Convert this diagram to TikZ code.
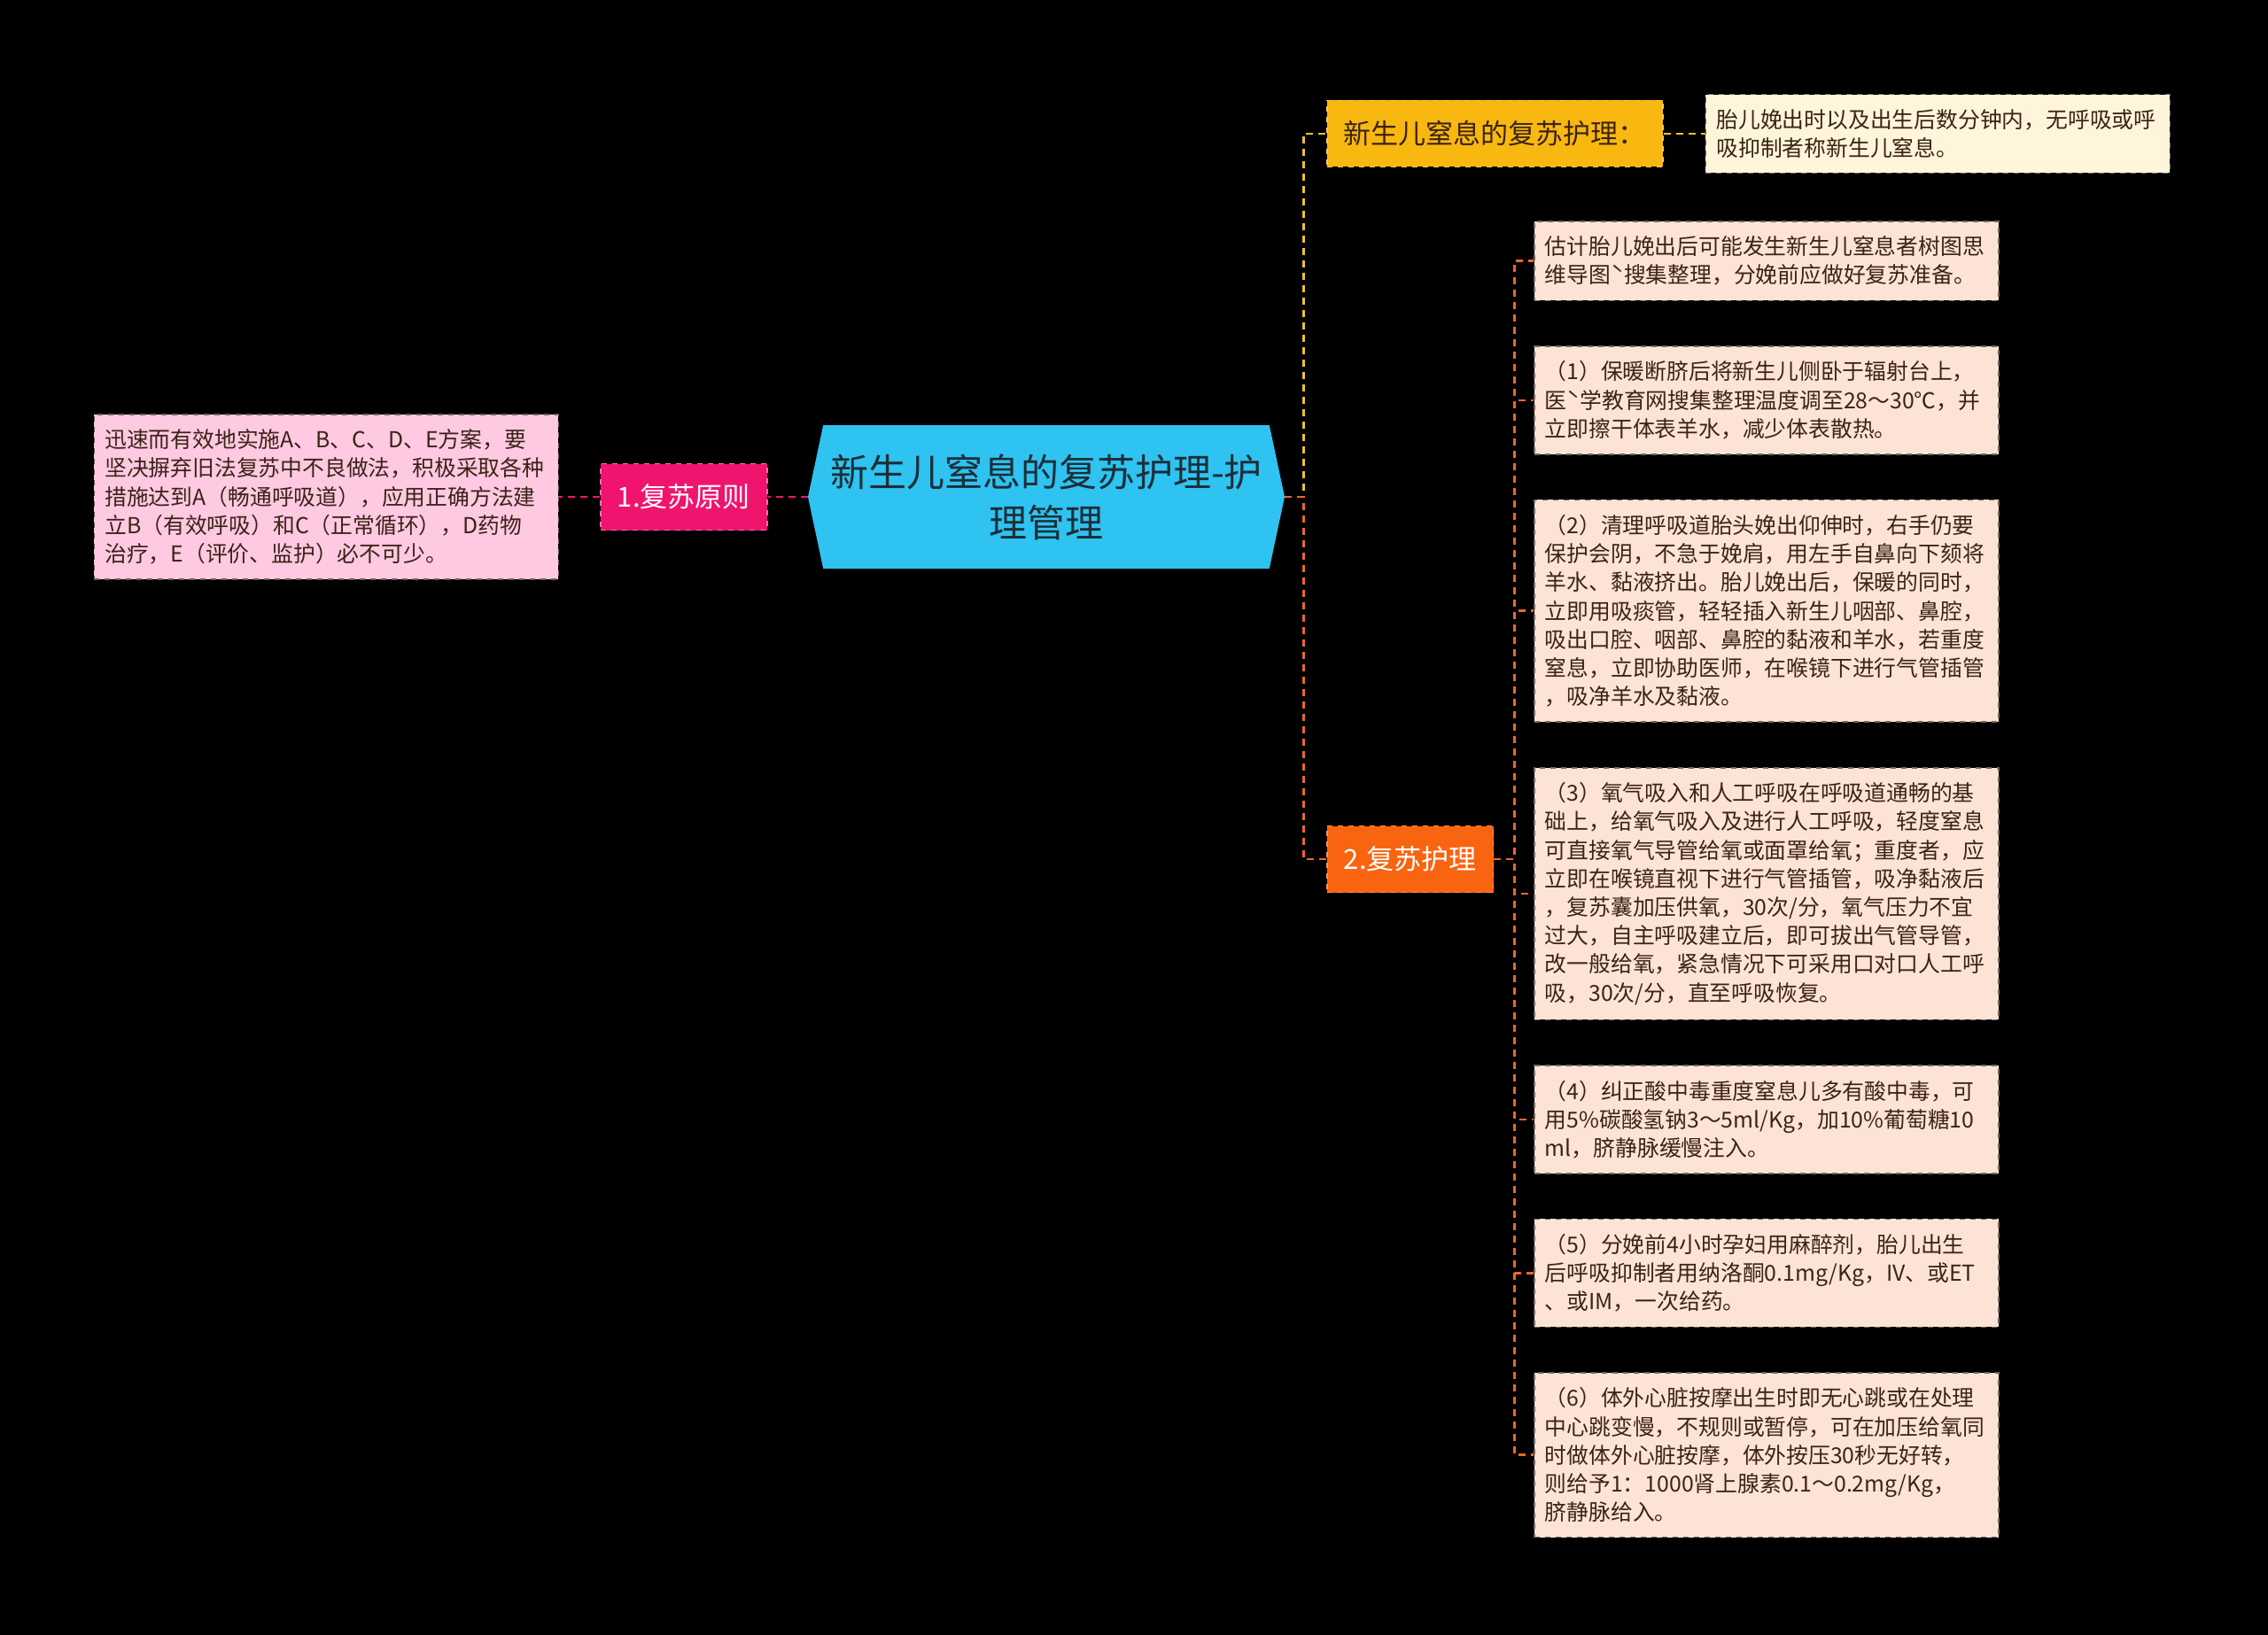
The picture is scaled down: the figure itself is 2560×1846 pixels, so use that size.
\documentclass[tikz,border=0pt]{standalone}
\usepackage{fontspec}
\setmainfont{Noto Sans CJK SC}
\usepackage{tikz}
\usetikzlibrary{positioning,shapes.symbols}
\definecolor{nbcyan}{HTML}{2EC3F0}
\definecolor{nbink}{HTML}{1C2E38}
\definecolor{nbpink}{HTML}{F0146E}
\definecolor{nbpinklt}{HTML}{FFC9E2}
\definecolor{nbgold}{HTML}{F8B80F}
\definecolor{nbcream}{HTML}{FFF5DB}
\definecolor{nbyline}{HTML}{F2C12E}
\definecolor{nborange}{HTML}{F96411}
\definecolor{nboline}{HTML}{EA672C}
\definecolor{nbpeach}{HTML}{FDE3D5}
\definecolor{nbbrown}{HTML}{3B2316}
\tikzset{
  root/.style={signal,signal to=west and east,signal pointer angle=156,
               fill=nbcyan,text=nbink,align=center,minimum width=269pt,
               minimum height=81pt,inner sep=2pt,font=\fontsize{21.5}{28.5}\selectfont},
  topic/.style={draw,dashed,line width=0.8pt,minimum height=37.5pt,inner xsep=9.5pt,
                font=\fontsize{15.5}{18}\selectfont},
  leaf/.style={draw,dashed,line width=0.8pt,text width=250pt,inner xsep=6pt,
               inner ysep=8.4pt,align=left,font=\fontsize{12.4}{16.1}\selectfont},
  pinktopic/.style={topic,fill=nbpink,draw=nbpink!60!white,text=white},
  goldtopic/.style={topic,fill=nbgold,draw=nbgold!70!white,text=nbbrown},
  orangetopic/.style={topic,fill=nborange,draw=nborange!70!white,text=white},
  pinkleaf/.style={leaf,fill=nbpinklt,draw=nbpinklt!45!black,text=nbbrown},
  creamleaf/.style={leaf,fill=nbcream,draw=nbcream!45!black,text=nbbrown},
  peachleaf/.style={leaf,fill=nbpeach,draw=nbpeach!45!black,text=nbbrown},
  ln/.style={line width=1.3pt,dash pattern=on 4pt off 3pt},
  pline/.style={ln,nbpink},
  yline/.style={ln,nbyline},
  oline/.style={ln,nboline},
}

\begin{document}
\begin{tikzpicture}[x=0.5pt,y=-0.5pt]
  \useasboundingbox (0,0) rectangle (2560,1846);
  \fill[black] (0,0) rectangle (2560,1846);
  \node[root] (root) at (1181,561) {新生儿窒息的复苏护理-护\\理管理};
  \node[pinktopic,left=22.5pt of root] (p1) {1.复苏原则};
  \node[pinkleaf,left=23pt of p1] (p1a) {迅速而有效地实施A、B、C、D、E方案，要\\坚决摒弃旧法复苏中不良做法，积极采取各种\\措施达到A（畅通呼吸道），应用正确方法建\\立B（有效呼吸）和C（正常循环），D药物\\治疗，E（评价、监护）必不可少。};
  \node[goldtopic,anchor=west] (y1) at (1497,151) {新生儿窒息的复苏护理：};
  \node[creamleaf,right=23.5pt of y1] (y1a) {胎儿娩出时以及出生后数分钟内，无呼吸或呼\\吸抑制者称新生儿窒息。};
  \node[orangetopic,anchor=west] (o2) at (1497,970) {2.复苏护理};
  \node[peachleaf,anchor=north west] (o2a) at (1731,249) {估计胎儿娩出后可能发生新生儿窒息者树图思\\维导图ˋ搜集整理，分娩前应做好复苏准备。};
  \node[peachleaf,below=25pt of o2a] (o2b) {（1）保暖断脐后将新生儿侧卧于辐射台上，\\医ˋ学教育网搜集整理温度调至28～30℃，并\\立即擦干体表羊水，减少体表散热。};
  \node[peachleaf,below=25pt of o2b] (o2c) {（2）清理呼吸道胎头娩出仰伸时，右手仍要\\保护会阴，不急于娩肩，用左手自鼻向下颏将\\羊水、黏液挤出。胎儿娩出后，保暖的同时，\\立即用吸痰管，轻轻插入新生儿咽部、鼻腔，\\吸出口腔、咽部、鼻腔的黏液和羊水，若重度\\窒息，立即协助医师，在喉镜下进行气管插管\\，吸净羊水及黏液。};
  \node[peachleaf,below=25pt of o2c] (o2d) {（3）氧气吸入和人工呼吸在呼吸道通畅的基\\础上，给氧气吸入及进行人工呼吸，轻度窒息\\可直接氧气导管给氧或面罩给氧；重度者，应\\立即在喉镜直视下进行气管插管，吸净黏液后\\，复苏囊加压供氧，30次/分，氧气压力不宜\\过大，自主呼吸建立后，即可拔出气管导管，\\改一般给氧，紧急情况下可采用口对口人工呼\\吸，30次/分，直至呼吸恢复。};
  \node[peachleaf,below=25pt of o2d] (o2e) {（4）纠正酸中毒重度窒息儿多有酸中毒，可\\用5\%碳酸氢钠3～5ml/Kg，加10\%葡萄糖10\\ml，脐静脉缓慢注入。};
  \node[peachleaf,below=25pt of o2e] (o2f) {（5）分娩前4小时孕妇用麻醉剂，胎儿出生\\后呼吸抑制者用纳洛酮0.1mg/Kg，IV、或ET\\、或IM，一次给药。};
  \node[peachleaf,below=25pt of o2f] (o2g) {（6）体外心脏按摩出生时即无心跳或在处理\\中心跳变慢，不规则或暂停，可在加压给氧同\\时做体外心脏按摩，体外按压30秒无好转，\\则给予1：1000肾上腺素0.1～0.2mg/Kg，\\脐静脉给入。};
  \coordinate (rj) at ([xshift=10.5pt]root.east);
  \coordinate (oj) at ([xshift=11.5pt]o2.east);
  \draw[pline] (root.west) -- (p1.east);
  \draw[pline] (p1.west) -- (p1a.east);
  \draw[yline] (root.east) -- (rj) |- (y1.west);
  \draw[oline] (root.east) -- (rj) |- (o2.west);
  \draw[yline] (y1.east) -- (y1a.west);
  \foreach \n in {a,b,c,d,e,f,g}
    \draw[oline] (o2.east) -- (oj) |- (o2\n.west);
\end{tikzpicture}
\end{document}
